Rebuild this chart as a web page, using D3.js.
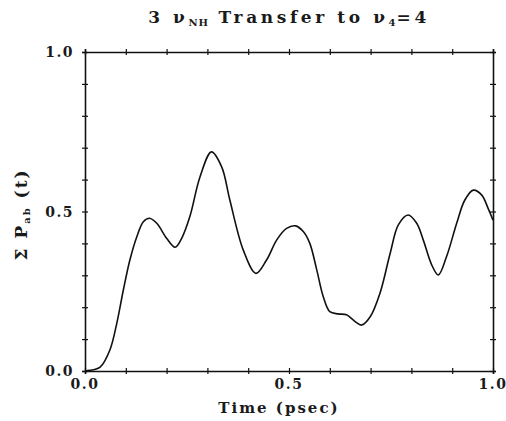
<!DOCTYPE html>
<html>
<head>
<meta charset="utf-8">
<script src="https://cdn.jsdelivr.net/npm/d3@7"></script>
<style>
  body { margin: 0; background: #fff; }
  svg text { font-family: "DejaVu Serif", serif; font-weight: bold; fill: #1a1a1a; }
</style>
</head>
<body>
<script>
'use strict';

// time (psec) and summed population
const times = [0.0, 0.012, 0.037, 0.061, 0.078, 0.094, 0.11, 0.127, 0.143, 0.158, 0.176, 0.2, 0.221, 0.237, 0.257, 0.282, 0.31, 0.335, 0.355, 0.388, 0.419, 0.445, 0.47, 0.494, 0.516, 0.535, 0.551, 0.568, 0.584, 0.6, 0.621, 0.641, 0.662, 0.678, 0.699, 0.723, 0.748, 0.768, 0.792, 0.813, 0.829, 0.85, 0.866, 0.886, 0.911, 0.931, 0.952, 0.972, 0.988, 1.0];
const population = [0.0, 0.002, 0.012, 0.066, 0.15, 0.254, 0.348, 0.421, 0.468, 0.479, 0.463, 0.416, 0.388, 0.416, 0.484, 0.609, 0.687, 0.64, 0.536, 0.379, 0.306, 0.348, 0.411, 0.447, 0.455, 0.437, 0.4, 0.317, 0.233, 0.186, 0.179, 0.176, 0.155, 0.144, 0.17, 0.244, 0.369, 0.458, 0.489, 0.463, 0.411, 0.332, 0.301, 0.358, 0.463, 0.536, 0.567, 0.552, 0.51, 0.473];

const tickValues = d3.range(0, 11).map(d => d / 10);
const labelValues = [0.0, 0.5, 1.0];

const width = 506, height = 421;
const margin = {left: 85, right: 13, top: 52, bottom: 50};

const svg = d3.select('body').append('svg')
  .attr('width', width)
  .attr('height', height);

const x = d3.scaleLinear().domain([0, 1]).range([margin.left, width - margin.right]);
const y = d3.scaleLinear().domain([0, 1]).range([height - margin.bottom, margin.top]);

// axes: crossing ticks every 0.1, labels only at 0, 0.5, 1
function crossTicks(g) {
  g.select('.domain').attr('stroke', '#111').attr('stroke-width', 1.6);
  g.selectAll('.tick line').attr('stroke', '#111').attr('stroke-width', 1.2);
  g.selectAll('.tick text').remove();
}

svg.append('g')
  .attr('transform', 'translate(0,' + y(0) + ')')
  .call(d3.axisBottom(x).tickValues(tickValues).tickSizeOuter(0).tickSize(3))
  .call(crossTicks)
  .selectAll('.tick line').attr('y1', -3).attr('y2', 3);

svg.append('g')
  .attr('transform', 'translate(0,' + y(1) + ')')
  .call(d3.axisTop(x).tickValues(tickValues).tickSizeOuter(0).tickSize(3))
  .call(crossTicks)
  .selectAll('.tick line').attr('y1', -3).attr('y2', 3);

svg.append('g')
  .attr('transform', 'translate(' + x(0) + ',0)')
  .call(d3.axisLeft(y).tickValues(tickValues).tickSizeOuter(0).tickSize(3))
  .call(crossTicks)
  .selectAll('.tick line').attr('x1', -3).attr('x2', 3);

svg.append('g')
  .attr('transform', 'translate(' + x(1) + ',0)')
  .call(d3.axisRight(y).tickValues(tickValues).tickSizeOuter(0).tickSize(3))
  .call(crossTicks)
  .selectAll('.tick line').attr('x1', -3).attr('x2', 3);

// tick labels
svg.selectAll('.xlab')
  .data(labelValues)
  .enter().append('text')
  .attr('x', d => x(d))
  .attr('y', y(0) + 18)
  .attr('text-anchor', 'middle')
  .style('font-size', '14px')
  .style('letter-spacing', '1.5px')
  .text(d => d.toFixed(1));

svg.selectAll('.ylab')
  .data(labelValues)
  .enter().append('text')
  .attr('x', x(0) - 11)
  .attr('y', d => y(d) + 5)
  .attr('text-anchor', 'end')
  .style('font-size', '14px')
  .style('letter-spacing', '1.5px')
  .text(d => d.toFixed(1));

// the curve
const line = d3.line()
  .x((d, i) => x(times[i]))
  .y(d => y(d))
  .curve(d3.curveCatmullRom.alpha(0.5));

svg.append('path')
  .attr('d', line(population))
  .attr('fill', 'none')
  .attr('stroke', '#111')
  .attr('stroke-width', 1.6);

// title
const title = svg.append('text')
  .attr('x', 289)
  .attr('y', 23)
  .attr('text-anchor', 'middle')
  .style('font-size', '17px')
  .style('letter-spacing', '3.6px');
title.append('tspan').text('3 \u03bd');
title.append('tspan').attr('baseline-shift', '-30%').style('font-size', '10px').style('letter-spacing', '1px').text('NH');
title.append('tspan').text(' Transfer to \u03bd');
title.append('tspan').attr('baseline-shift', '-30%').style('font-size', '10px').style('letter-spacing', '1px').text('4');
title.append('tspan').text('=4');

// x axis label
svg.append('text')
  .attr('x', 279)
  .attr('y', 413)
  .attr('text-anchor', 'middle')
  .style('font-size', '15px')
  .style('letter-spacing', '2px')
  .text('Time (psec)');

// y axis label
const ylab = svg.append('text')
  .attr('transform', 'translate(27,' + (y(0.5) + 3) + ') rotate(-90)')
  .attr('text-anchor', 'middle')
  .style('font-size', '17px')
  .style('letter-spacing', '2px');
ylab.append('tspan').text('\u03a3 P');
ylab.append('tspan').attr('baseline-shift', '-30%').style('font-size', '10px').text('ab');
ylab.append('tspan').text(' (t)');
</script>
</body>
</html>
